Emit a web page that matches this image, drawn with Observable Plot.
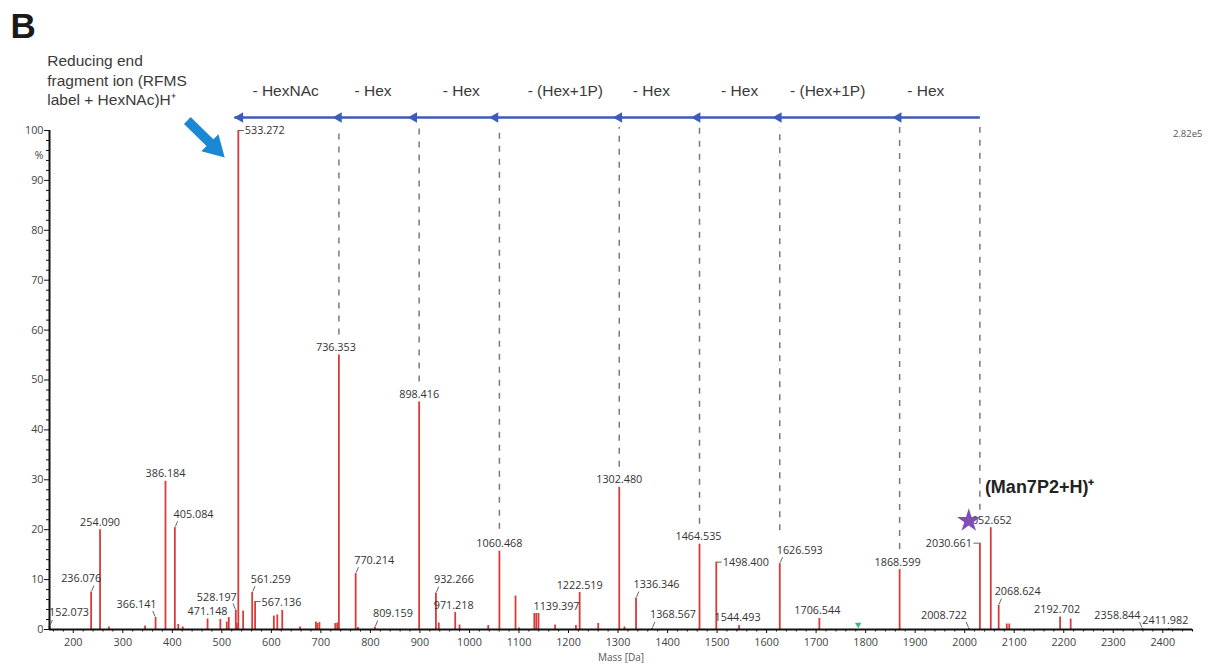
<!DOCTYPE html>
<html><head><meta charset="utf-8">
<script src="https://cdn.jsdelivr.net/npm/d3@7"></script>
<script src="https://cdn.jsdelivr.net/npm/@observablehq/plot@0.6"></script>
<style>html,body{margin:0;padding:0;background:#fff;} svg{display:block}</style>
</head><body><div id="chart"></div>
<script>
// ---------- DATA ----------
const peakMass = [152.073, 236.076, 254.090, 272, 345, 366.141, 386.184, 405.084, 412, 421, 471.148, 497, 510, 514, 528.197, 530.5, 533.272, 543, 561.259, 567.136, 605, 612, 622, 658, 690, 693, 697, 729, 733, 736.353, 770.214, 775, 809.159, 898.416, 932.266, 938, 971.218, 980, 1038, 1060.468, 1093, 1100, 1131, 1135, 1139.397, 1173, 1215, 1222.519, 1260, 1302.480, 1313, 1336.346, 1368.567, 1464.535, 1498.400, 1544.493, 1626.593, 1706.544, 1868.599, 2008.722, 2030.661, 2052.652, 2068.624, 2085, 2090, 2192.702, 2214, 2358.844, 2411.982];
const peakIntensity = [0.6, 7.5, 20.0, 0.5, 0.7, 2.4, 29.7, 20.4, 1.0, 0.5, 2.1, 2.0, 1.5, 2.4, 3.9, 1.2, 100, 3.7, 7.4, 5.6, 2.7, 2.9, 3.8, 0.5, 1.5, 1.2, 1.4, 1.2, 1.3, 55.0, 11.2, 0.4, 0.5, 45.6, 7.3, 1.3, 3.4, 0.9, 0.8, 15.7, 6.7, 0.3, 3.2, 3.2, 3.2, 0.9, 0.8, 7.4, 1.2, 28.5, 0.5, 6.3, 0.2, 17.1, 13.5, 0.8, 13.2, 2.2, 12.0, 0.2, 17.3, 20.4, 4.9, 1.1, 1.1, 2.5, 2.1, 0.2, 0.2];
const labelText = ["152.073","236.076","254.090","366.141","386.184","405.084","471.148","528.197","533.272","561.259","567.136","736.353","770.214","809.159","898.416","932.266","971.218","1060.468","1139.397","1222.519","1302.480","1336.346","1368.567","1464.535","1498.400","1544.493","1626.593","1706.544","1868.599","2008.722","2030.661","2052.652","2068.624","2192.702","2358.844","2411.982"];
const fragMasses = [533.272, 736.353, 898.416, 1060.468, 1302.480, 1464.535, 1626.593, 1868.599, 2030.661];
const lossLabels = ["- HexNAc", "- Hex", "- Hex", "- (Hex+1P)", "- Hex", "- Hex", "- (Hex+1P)", "- Hex"];
const precursorMass = 2052.652;
const precursorLabel = "(Man7P2+H)\u207A";
const markerMass = [1785];
const xTicks = d3.range(200, 2401, 100);
const yTicks = d3.range(0, 101, 10);
const xMinor = d3.range(160, 2461, 20).filter(d => d % 100 !== 0);
const yMinor = d3.range(2, 100, 2).filter(d => d % 10 !== 0);
const intensityMax = "2.82e5";

// ---------- LAYOUT (pixel offsets, styles) ----------
const W = 1215, H = 669, mL = 49, mR = 23, mT = 130, mB = 40;
const xDom = [152, 2460];
const kx = (W - mL - mR) / (xDom[1] - xDom[0]);
const ky = (H - mT - mB) / 100;
const ox = (m, d) => m + d / kx;       // shift mass by d px
const oy = (v, d) => v - d / ky;       // shift intensity by d px (positive = down)

const labelLayout = {
  "152.073": ["ur", 19.5], "236.076": ["ur", -10], "254.090": ["top"], "366.141": ["ul", -19],
  "386.184": ["top"], "405.084": ["ur", 18.7], "471.148": ["top"], "528.197": ["ul", -19],
  "533.272": ["r"], "561.259": ["ur", 18.5], "567.136": ["r"], "736.353": ["top", -3],
  "770.214": ["ur", 18.5], "809.159": ["ur", 18], "898.416": ["top"], "932.266": ["ur", 18],
  "971.218": ["top", -1.5], "1060.468": ["top"], "1139.397": ["top", 18], "1222.519": ["top"],
  "1302.480": ["top"], "1336.346": ["ur", 20.5], "1368.567": ["ur", 21], "1464.535": ["top", -1],
  "1498.400": ["r"], "1544.493": ["top", -1.5], "1626.593": ["ur", 20], "1706.544": ["top", -2],
  "1868.599": ["top", -2], "2008.722": ["ul", -25], "2030.661": ["l"], "2052.652": ["top", -2],
  "2068.624": ["ur", 19], "2192.702": ["top", -3], "2358.844": ["ul", -25], "2411.982": ["top", -3.4]
};
const dashGap = [0, 20, 20, 22, 20, 20, 33, 20, 33];
const tipOffset = [-4, -6, -11, -10, -6, -8, -7, -7];
const lossNudge = [-3, -6, 2, 6, -8, 0, -12, -14];
const peakColor = "#d83b3b", blue = "#3b5cb8", textColor = "#333";
const labelFont = "Open Sans", bigFont = "Liberation Sans";

// ---------- DERIVED TABLES ----------
const peaks = peakMass.map((m, i) => ({mass: m, intensity: peakIntensity[i]}));
const intensityAt = m => peaks.find(p => Math.abs(p.mass - m) < 0.01).intensity;

const labels = labelText.map(t => {
  const m = +t, v = intensityAt(m);
  const [type, dxo] = labelLayout[t];
  let dx, dy, anchor, lead = null;
  if (type === "top") { dx = dxo ?? 0; dy = -7.5; anchor = "middle"; }
  else if (type === "ur") { dx = dxo ?? 19; dy = -13.5; anchor = "middle"; lead = [0.5, -1, 2.8, -6.5]; }
  else if (type === "ul") { dx = dxo ?? -20; dy = -13; anchor = "middle"; lead = [-0.5, -1, -2.8, -6.5]; }
  else if (type === "r") { dx = 6.5; dy = 0.5; anchor = "start"; lead = [0.5, 0, 5.5, 0]; }
  else { dx = -8; dy = 0.5; anchor = "end"; lead = [-1, 0, -6.5, 0]; }
  return {text: t, mass: m, v, x: ox(m, dx), y: oy(v, dy), anchor, lead};
});
const leaders = labels.filter(d => d.lead).map(d => ({
  x1: ox(d.mass, d.lead[0]), y1: oy(d.v, d.lead[1]), x2: ox(d.mass, d.lead[2]), y2: oy(d.v, d.lead[3])
}));

const frags = fragMasses.map((m, i) => ({mass: m, intensity: intensityAt(m), gap: dashGap[i]}));
const arrowY = 100 + 13 / ky;
const heads = frags.slice(0, 8).map((d, i) => ({x: ox(d.mass, tipOffset[i] + 5.8)}));
const losses = lossLabels.map((t, i) => ({
  text: t, x: ox((fragMasses[i] + fragMasses[i + 1]) / 2, lossNudge[i])
}));

const basePeak = {mass: 533.272, v: 100};
const blockArrow = {
  x1: ox(basePeak.mass, -51), y1: oy(basePeak.v, -10),
  x2: ox(basePeak.mass, -27), y2: oy(basePeak.v, 13.5),
  hx: ox(basePeak.mass, -23.5), hy: oy(basePeak.v, 17.2)
};
const precV = intensityAt(precursorMass);
const starPos = {x: ox(precursorMass, -22), y: oy(precV, -7)};
const precLabelPos = {x: ox(2030.661, 5), y: oy(intensityAt(2030.661), -56)};

// ---------- PLOT ----------
const chart = Plot.plot({
  width: W, height: H,
  marginLeft: mL, marginRight: mR, marginTop: mT, marginBottom: mB,
  x: {domain: xDom, label: null},
  y: {domain: [0, 100], label: null},
  style: {fontFamily: labelFont, background: "#fff", overflow: "visible"},
  marks: [
    // dashed guide lines
    Plot.ruleX(frags.slice(1), {x: "mass", y1: d => oy(d.intensity, -d.gap), y2: 100 + 3 / ky,
      stroke: "#7a7a7a", strokeWidth: 1.5, strokeDasharray: "6,7"}),
    // spectrum peaks
    Plot.ruleX(peaks, {x: "mass", y1: 0, y2: "intensity", stroke: peakColor, strokeWidth: 1.8}),
    // axis lines
    Plot.ruleY([0], {stroke: "#111", strokeWidth: 2}),
    Plot.ruleX([xDom[0]], {y1: 0, y2: 100, stroke: "#111", strokeWidth: 2}),
    // minor ticks
    Plot.ruleX(xMinor, {x: d => d, y1: 0, y2: -2.5 / ky, stroke: "#111", strokeWidth: 1}),
    Plot.ruleY(yMinor, {y: d => d, x1: xDom[0], x2: ox(xDom[0], -3), stroke: "#111", strokeWidth: 1}),
    // major axes
    Plot.axisX({ticks: xTicks, tickFormat: "d", tickSize: 4, tickPadding: 5, fontSize: 10.8, fill: "#444", stroke: "#111", label: null}),
    Plot.axisY({ticks: yTicks, tickFormat: "d", tickSize: 5, tickPadding: 1, fontSize: 10.8, fill: "#444", stroke: "#111", label: null}),
    Plot.text(["%"], {x: xDom[0], y: 95, dx: -6, textAnchor: "end", fontSize: 10.5, fill: "#444"}),
    Plot.text(["Mass [Da]"], {frameAnchor: "bottom", dy: 31, fontSize: 10, fill: "#555"}),
    Plot.text([intensityMax], {frameAnchor: "top-right", dx: 10, dy: 0, textAnchor: "end", fontSize: 9.5, fill: "#555"}),
    // peak labels
    Plot.link(leaders, {x1: "x1", y1: "y1", x2: "x2", y2: "y2", stroke: "#555", strokeWidth: 0.9}),
    ...["middle", "start", "end"].map(a =>
      Plot.text(labels.filter(d => d.anchor === a), {x: "x", y: "y", text: "text", textAnchor: a,
        fontSize: 10.8, fill: textColor})),
    // fragmentation arrows
    Plot.link([0], {x1: ox(fragMasses[0], tipOffset[0]), x2: fragMasses[8], y1: arrowY, y2: arrowY,
      stroke: blue, strokeWidth: 2.5}),
    Plot.dot(heads, {x: "x", y: arrowY, symbol: "triangle", rotate: -90, r: 3.9, fill: blue, stroke: null}),
    Plot.text(losses, {x: "x", y: 100 + 39 / ky, text: "text", fontSize: 15.5, fontFamily: bigFont, fill: "#3a3a3a"}),
    // block arrow to base peak
    Plot.link([blockArrow], {x1: "x1", y1: "y1", x2: "x2", y2: "y2", stroke: "#1b88d3", strokeWidth: 9.5}),
    Plot.dot([blockArrow], {x: "hx", y: "hy", symbol: "triangle", rotate: 135, r: 9, fill: "#1b88d3", stroke: null}),
    Plot.text(["Reducing end\nfragment ion (RFMS\nlabel + HexNAc)H\u207A"], {frameAnchor: "top-left", dx: -2.3, dy: -78,
      textAnchor: "start", lineAnchor: "top", lineHeight: 1.26, fontSize: 15.5, fontFamily: bigFont, fill: "#3a3a3a"}),
    Plot.text(["B"], {frameAnchor: "top-left", dx: -39, dy: -117, textAnchor: "start", lineAnchor: "top",
      fontSize: 35, fontWeight: "bold", fontFamily: bigFont, fill: "#1a1a1a"}),
    // precursor
    Plot.dot([starPos], {x: "x", y: "y", symbol: "star", r: 7.4, fill: "#7e4fb8", stroke: null}),
    Plot.text([precursorLabel], {x: precLabelPos.x, y: precLabelPos.y, textAnchor: "start", fontSize: 18,
      fontWeight: "bold", fontFamily: bigFont, fill: "#222"}),
    // marker
    Plot.dot(markerMass, {x: d => d, y: oy(0, -5), symbol: "triangle", rotate: 180, r: 2.4, fill: "#3cb878", stroke: null})
  ]
});
document.getElementById("chart").appendChild(chart);
</script>
</body></html>
